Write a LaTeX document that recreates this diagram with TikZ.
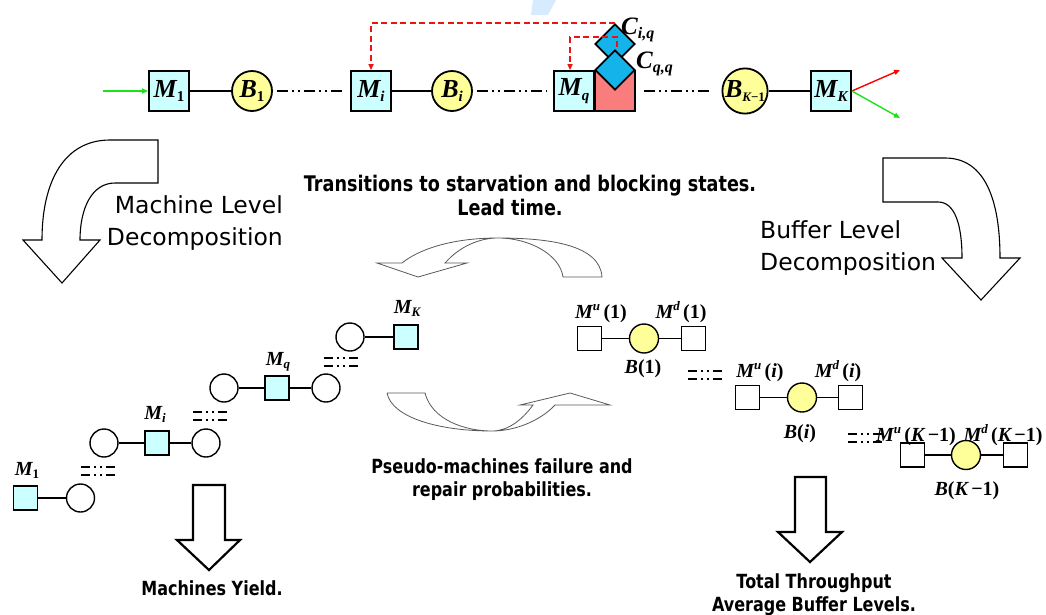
\documentclass[tikz,border=0pt]{standalone}
\usepackage{fontspec}
\usetikzlibrary{shapes.geometric,arrows.meta}
\newfontfamily\tms{Liberation Serif}
\newfontfamily\tahr{DejaVu Sans}
\newfontfamily\tahb[FakeStretch=0.82]{DejaVu Sans}
\definecolor{mcyan}{RGB}{204,255,255}
\definecolor{byel}{RGB}{255,255,153}
\definecolor{rbox}{RGB}{250,125,125}
\definecolor{dblue}{RGB}{20,180,235}
\definecolor{lgreen}{RGB}{30,225,30}
\definecolor{wmark}{RGB}{215,235,255}
\definecolor{dred}{RGB}{235,20,20}
\newcommand\bi{\tms\bfseries\itshape}
\newcommand\sbs[2][15]{\raisebox{-0.35ex}{\fontsize{#1}{#1}\selectfont #2}}
\newcommand\sps[2][13]{\raisebox{0.85ex}{\fontsize{#1}{#1}\selectfont #2}}
\tikzset{
  mbox/.style={draw=black, line width=1.8pt, fill=mcyan, minimum size=40pt, inner sep=0pt, font=\fontsize{26}{26}\bi},
  bcirc/.style={circle, draw=black, line width=1.8pt, fill=byel, minimum size=40pt, inner sep=0pt, font=\fontsize{26}{26}\bi},
  rsq/.style={draw=black, line width=1.8pt, fill=rbox, minimum size=40pt, inner sep=0pt},
  dia/.style={diamond, draw=black, line width=1.8pt, fill=dblue, minimum width=40pt, minimum height=40pt, inner sep=0pt},
  clab/.style={inner sep=0pt, font=\fontsize{25}{25}\bi},
  smbox/.style={draw=black, line width=1.8pt, fill=mcyan, minimum size=24pt, inner sep=0pt},
  scirc/.style={circle, draw=black, line width=1.4pt, fill=white, minimum size=28pt, inner sep=0pt},
  wbox/.style={draw=black, line width=1.3pt, fill=white, minimum size=24pt, inner sep=0pt},
  ycirc/.style={circle, draw=black, line width=1.4pt, fill=byel, minimum size=29pt, inner sep=0pt},
  slab/.style={inner sep=0pt, font=\fontsize{20}{20}\bi},
  rlab/.style={inner sep=0pt, font=\fontsize{20}{20}\bi},
  conn/.style={line width=1.2pt},
  ddot/.style={line width=1.3pt, dash pattern=on 11pt off 4pt on 2pt off 4pt on 2pt off 4pt},
  reddash/.style={draw=dred, line width=1.5pt, dash pattern=on 6pt off 3.5pt, -{Triangle[length=6pt,width=5pt,fill=dred]}},
  bigarrow/.style={draw=black, line width=1.1pt, fill=white, line join=miter},
  thinarrow/.style={draw=black!65, line width=0.8pt, fill=white},
  downarrow/.style={draw=black, line width=2.2pt, fill=white, line join=miter},
  bigtxt/.style={inner sep=0pt, font=\fontsize{23.5}{23.5}\tahr},
  boldtxt/.style={inner sep=0pt, font=\fontsize{19.5}{19.5}\tahb\bfseries},
  boldbig/.style={inner sep=0pt, font=\fontsize{21.5}{21.5}\tahb\bfseries},
  eqsym/.pic={\draw[line width=1.3pt] (0,0)--(9,0) (13,0)--(15,0) (19,0)--(21,0) (25,0)--(34,0)
     (0,8)--(9,8) (13,8)--(15,8) (19,8)--(21,8) (25,8)--(34,8);}
}
\begin{document}
\begin{tikzpicture}[x=1pt,y=-1pt]
\useasboundingbox (0,0) rectangle (1046,614);
\fill[wmark] (533,0) -- (556,0) -- (548,15) -- (531,15) -- cycle;

% ---------- top row ----------
\node[mbox] (m1) at (169,91) {M\sbs{\upshape 1}};
\node[bcirc] (b1) at (252,91) {B\sbs{\upshape 1}};
\node[mbox] (mi) at (371,91) {M\sbs{i}};
\node[bcirc] (bi) at (452,91) {B\sbs{i}};
\node[mbox] (mq) at (574,91) {M\sbs{q}};
\node[rsq] (rq) at (615,91) {};
\node[dia] (ciq) at (615,44) {};
\node[dia] (cqq) at (615,70) {};
\node[bcirc] (bk) at (745,91) {B\sbs[13]{K\upshape−1}};
\node[mbox] (mk) at (831,91) {M\sbs{K}};
\node[clab, anchor=base west] (ciqlab) at (621,34) {C\sbs[16]{i,q}};
\node[clab, anchor=base west] (cqqlab) at (636,68) {C\sbs[16]{q,q}};

\coordinate (gin) at (103,91);
\coordinate (rout) at (900,70);
\coordinate (gout) at (900,118);
\draw[lgreen, line width=1.4pt, -{Triangle[length=6pt,width=5pt]}] (gin) -- (m1.west);
\draw[red, line width=1.4pt, -{Triangle[length=6pt,width=5pt]}] (mk.east) -- (rout);
\draw[lgreen, line width=1.4pt, -{Triangle[length=6pt,width=5pt]}] (mk.east) -- (gout);
\draw[conn] (m1) -- (b1);
\draw[ddot] ([xshift=4pt]b1.east) -- ([xshift=-6pt]mi.west);
\draw[conn] (mi) -- (bi);
\draw[ddot] ([xshift=4pt]bi.east) -- ([xshift=-6pt]mq.west);
\draw[ddot] ([xshift=8pt]rq.east) -- ([xshift=-10pt]bk.west);
\draw[conn] (bk) -- (mk);
\draw[reddash] (ciq.north) -| (mi.north);
\coordinate (c2) at (617,47);
\draw[reddash] (c2) -- ++(0,-10) -| ([xshift=-4pt]mq.north);

% ---------- big curved arrows ----------
\draw[bigarrow] (158,140) -- (158,183) -- (115,183) .. controls (92,183) and (80,208) .. (80,240)
  -- (100,240) -- (62,283) -- (23,240) -- (42,240) .. controls (42,180) and (65,140) .. (110,140) -- cycle;
\draw[bigarrow] (883,158) -- (883,202) -- (938,202) .. controls (955,202) and (962,225) .. (962,258)
  -- (942,258) -- (981,300) -- (1020,258) -- (1000,258) .. controls (1000,200) and (985,158) .. (945,158) -- cycle;

\node[bigtxt, anchor=base east] (mld1) at (283,213) {Machine Level};
\node[bigtxt, anchor=base east] (mld2) at (283,245) {Decomposition};
\node[bigtxt, anchor=base west] (bld1) at (760,238) {Buffer Level};
\node[bigtxt, anchor=base west] (bld2) at (760,270) {Decomposition};

% ---------- middle circular arrows ----------
\draw[thinarrow] (563,277) -- (602,277) .. controls (600,245) and (550,238) .. (498,238)
  .. controls (450,238) and (418,250) .. (402,263) -- (377,263) -- (418,277) -- (467,263) -- (445,263)
  .. controls (460,246) and (480,238) .. (498,238) .. controls (530,238) and (560,255) .. (563,277);
\draw[thinarrow] (387,393) -- (425,393) .. controls (432,420) and (465,431) .. (492,431)
  .. controls (508,431) and (522,420) .. (533,405) -- (520,405) -- (570,393) -- (610,405) -- (555,405)
  .. controls (540,421) and (515,431) .. (492,431) .. controls (440,431) and (392,418) .. (387,393);

\node[boldbig, anchor=base] (tr1) at (530,191) {Transitions to starvation and blocking states.};
\node[boldbig, anchor=base] (tr2) at (510,215) {Lead time.};
\node[boldtxt, anchor=base] (ps1) at (502,473) {Pseudo-machines failure and};
\node[boldtxt, anchor=base] (ps2) at (502,496) {repair probabilities.};

% ---------- machine level chain ----------
\node[smbox] (lm1) at (25.5,498) {};
\node[scirc] (lc1) at (80.5,498) {};
\node[scirc] (lc2) at (104,443) {};
\node[smbox] (lmi) at (157,443) {};
\node[scirc] (lc3) at (206,443) {};
\node[scirc] (lc4) at (224,388) {};
\node[smbox] (lmq) at (277,388) {};
\node[scirc] (lc5) at (326,388) {};
\node[scirc] (lc6) at (350,337) {};
\node[smbox] (lmk) at (406,337) {};
\draw[conn] (lm1) -- (lc1);
\draw[conn] (lc2) -- (lmi) -- (lc3);
\draw[conn] (lc4) -- (lmq) -- (lc5);
\draw[conn] (lc6) -- (lmk);
\node[slab, anchor=base] (lm1l) at (27,475) {M\sbs[13]{\upshape 1}};
\node[slab, anchor=base] (lmil) at (155,419) {M\sbs[13]{i}};
\node[slab, anchor=base] (lmql) at (278,365) {M\sbs[13]{q}};
\node[slab, anchor=base] (lmkl) at (407,313) {M\sbs[13]{K}};
\pic at (81,467) {eqsym};
\pic at (193,412) {eqsym};
\pic at (324,358) {eqsym};

% ---------- buffer level chain ----------
\node[wbox] (ru1) at (589.5,338.5) {};
\node[ycirc] (ry1) at (644,338.5) {};
\node[wbox] (rd1) at (693.5,338.5) {};
\node[wbox] (ru2) at (747.5,397.5) {};
\node[ycirc] (ry2) at (802,397.5) {};
\node[wbox] (rd2) at (850.5,397.5) {};
\node[wbox] (ru3) at (912.5,455) {};
\node[ycirc] (ry3) at (966,455) {};
\node[wbox] (rd3) at (1015.5,455) {};
\draw[conn] (ru1) -- (ry1) -- (rd1);
\draw[conn] (ru2) -- (ry2) -- (rd2);
\draw[conn] (ru3) -- (ry3) -- (rd3);
\node[rlab, anchor=base] (lu1) at (601,318) {M\sps{u}\,\upshape(1)};
\node[rlab, anchor=base] (ld1) at (681,318) {M\sps{d}\,\upshape(1)};
\node[rlab, anchor=base] (lb1) at (643,373) {B\upshape(1)};
\node[rlab, anchor=base] (lu2) at (760,377) {M\sps{u}\,\upshape(\itshape i\upshape)};
\node[rlab, anchor=base] (ld2) at (838,377) {M\sps{d}\,\upshape(\itshape i\upshape)};
\node[rlab, anchor=base] (lb2) at (800,438) {B\upshape(\itshape i\upshape)};
\node[rlab, anchor=base] (lu3) at (916,441) {M\sps{u}\,\upshape(\itshape K\,\upshape−1)};
\node[rlab, anchor=base] (ld3) at (1003,441) {M\sps{d}\,\upshape(\itshape K\,\upshape−1)};
\node[rlab, anchor=base] (lb3) at (967,495) {B\upshape(\itshape K\,\upshape−1)};
\pic at (688,371) {eqsym};
\pic at (848,434) {eqsym};

% ---------- down arrows and results ----------
\draw[downarrow] (193,485) -- (225,485) -- (225,540) -- (240,540) -- (209,570) -- (177,540) -- (193,540) -- cycle;
\draw[downarrow] (795,477) -- (826,477) -- (826,532) -- (842,532) -- (810,562) -- (778,532) -- (795,532) -- cycle;
\node[boldtxt, anchor=base] (my) at (212,595) {Machines Yield.};
\node[boldtxt, anchor=base] (tt1) at (814,588) {Total Throughput};
\node[boldtxt, anchor=base] (tt2) at (814,611) {Average Buffer Levels.};
\end{tikzpicture}
\end{document}
